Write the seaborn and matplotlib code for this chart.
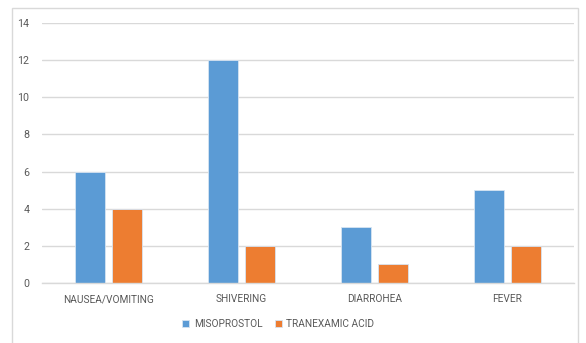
import matplotlib
matplotlib.use("Agg")
import matplotlib.pyplot as plt
import seaborn as sns
import pandas as pd
from matplotlib.patches import Rectangle

categories = ["NAUSEA/VOMITING", "SHIVERING", "DIARROHEA", "FEVER"]
misoprostol = [6, 12, 3, 5]
tranexamic = [4, 2, 1, 2]
series_names = ["MISOPROSTOL", "TRANEXAMIC ACID"]
y_ticks = [0, 2, 4, 6, 8, 10, 12, 14]

df = pd.DataFrame({
    "category": categories * 2,
    "value": misoprostol + tranexamic,
    "series": [series_names[0]] * len(categories) + [series_names[1]] * len(categories),
})

sns.set_theme(style="white")
plt.rcParams['font.family'] = ['Roboto', 'DejaVu Sans']
text_color = "#595959"
fs = 7.3

fig = plt.figure(figsize=(5.86, 3.43), dpi=100)
fig.patch.set_facecolor("white")
ax = fig.add_axes([42/586, 1-283/343, 532/586, 260/343])

palette = {series_names[0]: "#5B9BD5", series_names[1]: "#ED7D31"}
sns.barplot(data=df, x="category", y="value", hue="series", palette=palette,
            width=0.56, gap=0.2, ax=ax, saturation=1, edgecolor="#D6E4F2",
            linewidth=0.6, legend=True)

ax.set_ylim(0, 14)
ax.set_yticks(y_ticks)
ax.set_xlim(-0.5, len(categories) - 0.5)
ax.set_xlabel("")
ax.set_ylabel("")
ax.yaxis.grid(True, color="#D9D9D9", linewidth=1)
ax.set_axisbelow(True)
for s in ["top", "right", "left"]:
    ax.spines[s].set_visible(False)
ax.spines["bottom"].set_color("#D9D9D9")
ax.spines["bottom"].set_linewidth(1)
ax.tick_params(axis="both", length=0, labelsize=fs + 0.4, colors=text_color)
ax.tick_params(axis="x", labelsize=fs)
ax.tick_params(axis="y", pad=9)
ax.tick_params(axis="x", pad=8)

handles, labels = ax.get_legend_handles_labels()
ax.legend_.remove()
fig.legend(handles, labels, loc="center", bbox_to_anchor=(0.475, 1-324/343),
           ncol=2, frameon=False, fontsize=fs, handlelength=0.7, handleheight=0.7,
           columnspacing=1.2, handletextpad=0.45, labelcolor=text_color)

border = Rectangle((12/586, -0.1), (578-12)/586, 1.1 - 8/343,
                   transform=fig.transFigure, fill=False, edgecolor="#D9D9D9",
                   linewidth=1)
fig.add_artist(border)

fig.savefig("out.png", dpi=100)
